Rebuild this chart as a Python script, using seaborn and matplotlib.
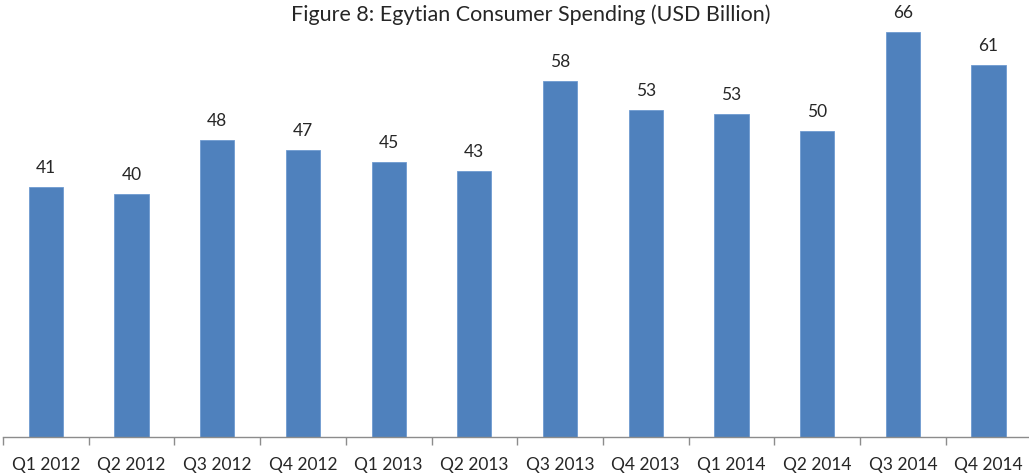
import matplotlib
matplotlib.use("Agg")
import matplotlib.pyplot as plt
import seaborn as sns
import pandas as pd

quarters = ["Q1 2012", "Q2 2012", "Q3 2012", "Q4 2012",
            "Q1 2013", "Q2 2013", "Q3 2013", "Q4 2013",
            "Q1 2014", "Q2 2014", "Q3 2014", "Q4 2014"]
spending = [40.75, 39.66, 48.43, 46.80,
            44.84, 43.37, 58.07, 53.40,
            52.68, 49.90, 66.18, 60.78]

df = pd.DataFrame({"quarter": quarters, "spending": spending})

sns.set_theme(style="white")
plt.rcParams["font.family"] = ["Lato", "DejaVu Sans"]

W, H = 1029, 475
fig = plt.figure(figsize=(W / 100, H / 100), dpi=100)
ax = fig.add_axes([3 / W, (H - 436.7) / H, 1028.4 / W, 428.4 / H])

sns.barplot(data=df, x="quarter", y="spending", color="#4F81BD",
            saturation=1, width=0.4, edgecolor="#6F9AD0", linewidth=0.6,
            ax=ax)

ax.set_xlim(-0.5, len(quarters) - 0.5)
ax.set_ylim(0, 70)

for cont in ax.containers:
    ax.bar_label(cont, fmt="{:.0f}", padding=8, fontsize=12.5, color="#262626")

ax.set_xlabel("")
ax.set_ylabel("")
ax.set_yticks([])
for side in ("left", "right", "top"):
    ax.spines[side].set_visible(False)
ax.spines["bottom"].set_color("#8C8C8C")
ax.spines["bottom"].set_linewidth(1.0)

# category labels without marks; marks sit on the category boundaries
ax.tick_params(axis="x", which="major", length=0, pad=14.5, labelsize=12.5,
               labelcolor="#262626")
ax.set_xticks([i - 0.5 for i in range(len(quarters) + 1)], minor=True)
ax.tick_params(axis="x", which="minor", length=6, width=1.0, color="#8C8C8C",
               direction="out", bottom=True)

fig.text(531 / W, 1 - 20.7 / H,
         "Figure 8: Egytian Consumer Spending (USD Billion)",
         ha="center", va="baseline", fontsize=15.5, color="#262626")

fig.savefig("out.png", dpi=100)
